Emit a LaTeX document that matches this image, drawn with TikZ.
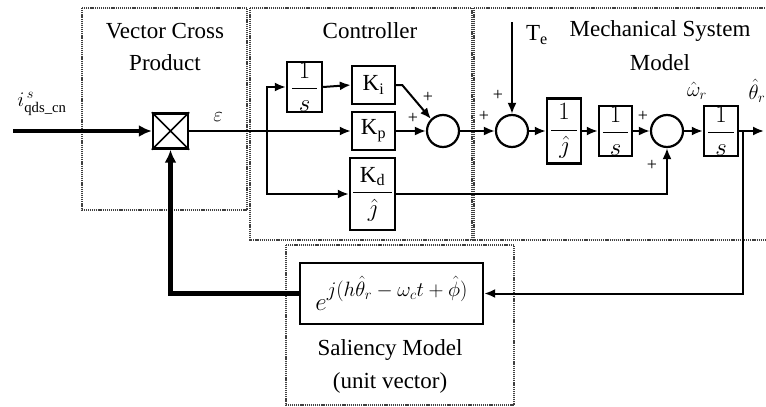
\documentclass[tikz,border=0pt]{standalone}
\usepackage{amsmath}
\usepackage{fontspec}
\setmainfont{Liberation Serif}
\usetikzlibrary{arrows.meta}
\begin{document}
\begin{tikzpicture}[x=1pt,y=-1pt,
  grp/.style={draw=black!75, line width=1.6pt, dash pattern=on 1.2pt off 0.9pt},
  blk/.style={draw, line width=2.4pt, inner sep=0pt, font=\fontsize{23}{25}\selectfont},
  sumc/.style={draw, circle, line width=2.2pt, minimum size=32pt, inner sep=0pt},
  sig/.style={line width=2pt, -{Latex[length=11pt,width=9pt]}},
  thk/.style={line width=4.5pt, -{Latex[length=13pt,width=12pt]}},
  ttl/.style={font=\fontsize{23}{26}\selectfont, inner sep=0pt},
  pl/.style={font=\fontsize{18}{18}\selectfont, inner sep=0pt},
  lab/.style={font=\fontsize{21}{23}\selectfont, inner sep=0pt}
]
\useasboundingbox (0,0) rectangle (766,407);
\fill[white] (0,0) rectangle (766,407);

% group frames
\draw[grp] (82,8) rectangle (247,210);
\draw[grp] (250,8) rectangle (472,240);
\draw[grp] (474,8) rectangle (800,240);
\draw[grp] (286,245) rectangle (514,405);

% titles
\node[ttl] (t1) at (165,31) {Vector Cross};
\node[ttl] (t2) at (165,63) {Product};
\node[ttl] (t3) at (370,31) {Controller};
\node[ttl] (t4) at (660,31) {Mechanical System};
\node[ttl] (t5) at (660,63) {Model};
\node[ttl] (t6) at (390,350) {Saliency Model};
\node[ttl] (t7) at (390,383) {(unit vector)};

% blocks
\node[blk, minimum width=35pt, minimum height=35pt] (cross) at (170.5,131) {};
\draw[line width=1.6pt] (cross.north west) -- (cross.south east)
                        (cross.north east) -- (cross.south west);
\node[blk, minimum width=35pt, minimum height=50pt] (int1) at (304.5,87) {$\dfrac{\;1\;}{\;s\;}$};
\node[blk, minimum width=43pt, minimum height=38pt] (Ki) at (373.5,85) {$\mathrm{K_i}$};
\node[blk, minimum width=43pt, minimum height=38pt] (Kp) at (373.5,131) {$\mathrm{K_p}$};
\node[blk, minimum width=45pt, minimum height=72pt] (Kd) at (372.5,194) {$\dfrac{\;\mathrm{K_d}\;}{\hat{\jmath}}$};
\node[sumc] (sumA) at (443,131) {};
\node[sumc] (sumB) at (512,131) {};
\node[blk, minimum width=34pt, minimum height=65pt] (invJ) at (564,131) {$\dfrac{\;1\;}{\hat{\jmath}}$};
\node[blk, minimum width=33pt, minimum height=50pt] (int2) at (615.5,131) {$\dfrac{\;1\;}{\;s\;}$};
\node[sumc] (sumC) at (667,131) {};
\node[blk, minimum width=34pt, minimum height=50pt] (int3) at (721,131) {$\dfrac{\;1\;}{\;s\;}$};
\node[blk, minimum width=183pt, minimum height=61pt] (sal) at (391.5,293.5)
  {\raisebox{-8pt}{$e$}\raisebox{6pt}{\fontsize{20}{20}\selectfont$j(h\hat{\theta}_r - \omega_c t + \hat{\phi})$}};

% coordinates
\coordinate (in) at (13,131);
\coordinate (br) at (267,131);
\coordinate (te) at (512,22);
\coordinate (fb) at (743,131);
\coordinate (out) at (764,131);

% connectors
\draw[thk] (in) -- (cross.west);
\draw[sig] (cross.east) -- (Kp.west);
\draw[sig] (br) |- (int1.west);
\draw[sig] (br) |- (Kd.west);
\draw[sig] (int1.east) -- (Ki.west);
\draw[sig] (Ki.east) -- ++(6,0) -- (sumA.135);
\draw[sig] (Kp.east) -- (sumA.west);
\draw[sig] (sumA.east) -- (sumB.west);
\draw[sig] (te) -- (sumB.north);
\draw[sig] (sumB.east) -- (invJ.west);
\draw[sig] (invJ.east) -- (int2.west);
\draw[sig] (int2.east) -- (sumC.west);
\draw[sig] (Kd.east) -| (sumC.south);
\draw[sig] (sumC.east) -- (int3.west);
\draw[sig] (int3.east) -- (out);
\draw[sig] (fb) |- (sal.east);
\draw[thk] (sal.west) -| (cross.south);

% labels
\node[lab] (lin) at (42,104) {$i^{\,s}_{\mathrm{qds\_cn}}$};
\node[lab] (leps) at (218,117) {$\varepsilon$};
\node[ttl] (lte) at (537,35) {T\textsubscript{e}};
\node[lab] (lw) at (697,91) {$\hat{\omega}_r$};
\node[lab] (lth) at (757,91) {$\hat{\theta}_r$};
\node[pl] (p1) at (428,97) {+};
\node[pl] (p2) at (413,118) {+};
\node[pl] (p3) at (484,116) {+};
\node[pl] (p4) at (498,95) {+};
\node[pl] (p5) at (643,116) {+};
\node[pl] (p6) at (652,165) {+};
\end{tikzpicture}
\end{document}
